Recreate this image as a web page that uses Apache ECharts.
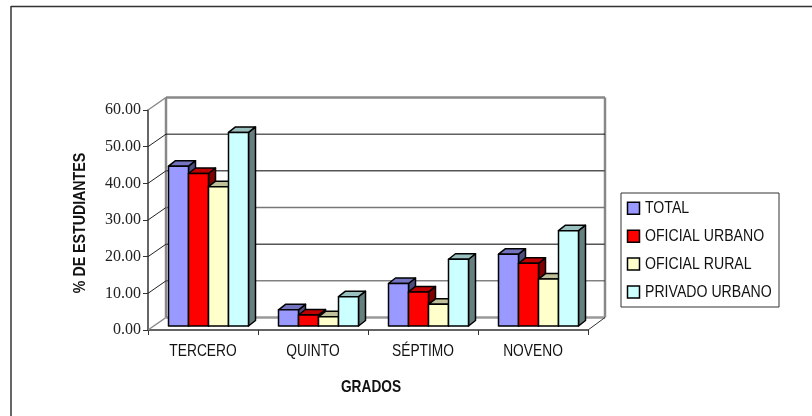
<!DOCTYPE html>
<html>
<head>
<meta charset="utf-8">
<style>html,body{margin:0;padding:0;background:#fff}#c{width:812px;height:416px}</style>
<script src="https://cdn.jsdelivr.net/npm/echarts@6/dist/echarts.min.js"></script>
</head>
<body>
<div id="c"></div>
<script>
// Share of students per school grade and school type
const categories = ['TERCERO', 'QUINTO', 'SÉPTIMO', 'NOVENO'];
const total = [43.6, 4.4, 11.6, 19.6];
const oficialUrbano = [41.6, 3.0, 9.3, 17.1];
const oficialRural = [38.0, 2.5, 5.9, 12.8];
const privadoUrbano = [52.8, 8.0, 18.2, 26.0];
const yTicks = [0, 10, 20, 30, 40, 50, 60];
const xTitle = 'GRADOS';
const yTitle = '% DE ESTUDIANTES';

const SANS = '"Liberation Sans", Arial, sans-serif';
const SERIF = '"Liberation Serif", serif';
const INK = '#111111';

// Sans text is squeezed horizontally to get a condensed face
const CONDENSE = 0.81;

// Oblique offset of the back wall and of each bar's own depth
const WALL_DX = 18, WALL_DY = -12.5;
const BAR_W = 20, BAR_DX = 7, BAR_DY = -5.5;
const BAR_SHIFT_X = 5.5, BAR_SHIFT_Y = -4;

const looks = [
  { name: 'TOTAL', values: total, front: '#9999ff', top: '#7373bf', side: '#4d4d80' },
  { name: 'OFICIAL URBANO', values: oficialUrbano, front: '#ff0000', top: '#bf0000', side: '#800000' },
  { name: 'OFICIAL RURAL', values: oficialRural, front: '#ffffcc', top: '#bfbf99', side: '#808066' },
  { name: 'PRIVADO URBANO', values: privadoUrbano, front: '#ccffff', top: '#99bfbf', side: '#668080' }
];

const gridStroke = {
  0: ['#999999', 2.5], 10: ['#444444', 1], 20: ['#555555', 1.5], 30: ['#777777', 1.5],
  40: ['#555555', 1.5], 50: ['#111111', 1], 60: ['#888888', 2.5]
};

// One extruded bar: side and top parallelograms behind the front rectangle
function barItem(look, idx) {
  return function (params, api) {
    const cat = api.value(0), val = api.value(1);
    const c = api.coord([cat, val]);
    const base = api.coord([cat, 0]);
    const x0 = c[0] + BAR_SHIFT_X + (idx - 2) * BAR_W;
    const x1 = x0 + BAR_W;
    const yT = c[1] + BAR_SHIFT_Y;
    const yB = base[1] + BAR_SHIFT_Y;
    const line = { stroke: '#000', lineWidth: 1.5, lineJoin: 'round' };
    return {
      type: 'group',
      children: [
        { type: 'polygon', shape: { points: [[x1, yB], [x1 + BAR_DX, yB + BAR_DY], [x1 + BAR_DX, yT + BAR_DY], [x1, yT]] },
          style: Object.assign({ fill: look.side }, line) },
        { type: 'polygon', shape: { points: [[x0, yT], [x0 + BAR_DX, yT + BAR_DY], [x1 + BAR_DX, yT + BAR_DY], [x1, yT]] },
          style: Object.assign({ fill: look.top }, line) },
        { type: 'rect', shape: { x: x0, y: yT, width: BAR_W, height: yB - yT },
          style: Object.assign({ fill: look.front }, line) }
      ]
    };
  };
}

// Back wall, left wall ticks and floor edge, placed from the value axis
function wallItem(params, api) {
  const v = api.value(0);
  const rect = params.coordSys;
  const yFront = api.coord([0, v])[1];
  const xL = rect.x, xR = rect.x + rect.width;
  const stroke = gridStroke[v];
  const kids = [
    { type: 'line', shape: { x1: xL + WALL_DX, y1: yFront + WALL_DY, x2: xR + WALL_DX - 1, y2: yFront + WALL_DY },
      style: { stroke: stroke[0], lineWidth: stroke[1] } },
    { type: 'line', shape: { x1: xL, y1: yFront, x2: xL + WALL_DX, y2: yFront + WALL_DY },
      style: { stroke: (v === 0 || v === 60) ? '#888888' : '#222222', lineWidth: (v === 0 || v === 60) ? 1.5 : 1 } }
  ];
  if (v === 0) {
    kids.push(
      { type: 'line', shape: { x1: xL + WALL_DX, y1: yFront + WALL_DY, x2: xL + WALL_DX, y2: rect.y + WALL_DY },
        style: { stroke: '#888888', lineWidth: 2.5 } },
      { type: 'line', shape: { x1: xR + WALL_DX - 1, y1: yFront + WALL_DY, x2: xR + WALL_DX - 1, y2: rect.y + WALL_DY },
        style: { stroke: '#888888', lineWidth: 2.5 } },
      { type: 'line', shape: { x1: xR, y1: yFront, x2: xR + WALL_DX - 1, y2: yFront + WALL_DY },
        style: { stroke: '#333333', lineWidth: 1 } }
    );
  }
  return { type: 'group', children: kids };
}

// Category names under the axis
function categoryLabel(params, api) {
  const p = api.coord([api.value(0), 0]);
  return {
    type: 'text', x: p[0], y: p[1] + 21, scaleX: CONDENSE,
    style: { text: categories[api.value(0)], fill: INK, textAlign: 'center', textVerticalAlign: 'middle',
      font: '17px ' + SANS }
  };
}

function legendGraphic() {
  const LEFT = 621, TOP = 193, ROW0 = 208.3, ROW_STEP = 27.9;
  const kids = [{ type: 'rect', shape: { x: LEFT, y: TOP, width: 158, height: 114 },
    style: { fill: '#ffffff', stroke: '#333333', lineWidth: 1 } }];
  looks.forEach((l, i) => {
    const y = ROW0 + i * ROW_STEP;
    kids.push({ type: 'rect', shape: { x: LEFT + 6.5, y: y - 6, width: 12, height: 12 },
      style: { fill: l.front, stroke: '#000000', lineWidth: 1.5 } });
    kids.push({ type: 'text', x: LEFT + 24, y: y, scaleX: 0.83,
      style: { text: l.name, fill: INK, textAlign: 'left', textVerticalAlign: 'middle', font: '17px ' + SANS } });
  });
  return { type: 'group', children: kids };
}

const chart = echarts.init(document.getElementById('c'), null, { renderer: 'canvas' });
chart.setOption({
  animation: false,
  backgroundColor: '#ffffff',
  grid: { left: 148, right: 224, top: 110, bottom: 86 },
  graphic: [
    { type: 'line', shape: { x1: 11, y1: 6.5, x2: 812, y2: 6.5 }, style: { stroke: '#333333', lineWidth: 1.5 } },
    { type: 'line', shape: { x1: 11, y1: 6, x2: 11, y2: 416 }, style: { stroke: '#333333', lineWidth: 1.5 } },
    { type: 'text', x: 371, y: 387.5, scaleX: 0.83,
      style: { text: xTitle, fill: INK, textAlign: 'center', textVerticalAlign: 'middle', font: 'bold 16.5px ' + SANS } },
    { type: 'text', x: 80.5, y: 223, rotation: Math.PI / 2, scaleX: 0.86,
      style: { text: yTitle, fill: INK, textAlign: 'center', textVerticalAlign: 'middle', font: 'bold 16.5px ' + SANS } },
    legendGraphic()
  ],
  xAxis: {
    type: 'category',
    data: categories,
    axisLine: { lineStyle: { color: '#333333', width: 1.5 } },
    axisTick: { show: true, length: 5, alignWithLabel: false, lineStyle: { color: '#333333' } },
    axisLabel: { show: false }
  },
  yAxis: {
    type: 'value',
    min: 0,
    max: 60,
    interval: 10,
    splitLine: { show: false },
    axisLine: { show: true, lineStyle: { color: '#333333', width: 1.5 } },
    axisTick: { show: true, length: 5, lineStyle: { color: '#333333' } },
    axisLabel: { fontFamily: SERIF, fontSize: 16, color: '#222222', margin: 7,
      formatter: v => v.toFixed(2) }
  },
  series: [
    {
      name: 'wall', type: 'custom', silent: true, clip: false, z: 1,
      data: yTicks.map(v => [v]),
      encode: { y: 0 },
      renderItem: wallItem
    },
    {
      name: 'labels', type: 'custom', silent: true, clip: false, z: 1,
      data: categories.map((c, k) => [k]),
      encode: { x: 0 },
      renderItem: categoryLabel
    }
  ].concat(looks.map((l, i) => ({
    name: l.name,
    type: 'custom',
    clip: false,
    z: 2 + i,
    itemStyle: { color: l.front, borderColor: '#000000', borderWidth: 1.5 },
    data: l.values.map((v, k) => [k, v]),
    encode: { x: 0, y: 1 },
    renderItem: barItem(l, i)
  })))
});
</script>
</body>
</html>
